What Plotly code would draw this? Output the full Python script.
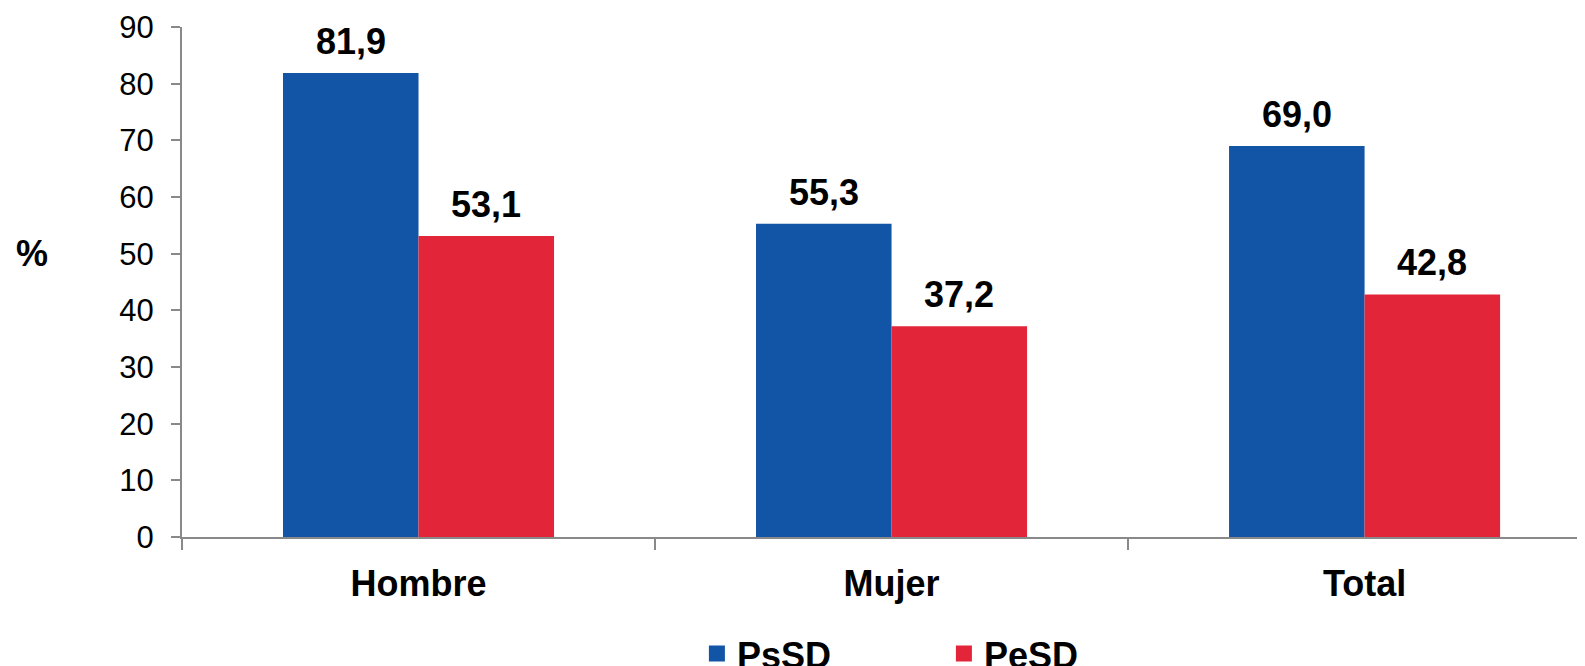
import plotly.graph_objects as go

categories = ["Hombre", "Mujer", "Total"]
psd = [81.9, 55.3, 69.0]
pesd = [53.1, 37.2, 42.8]
series_names = ["PsSD", "PeSD"]
y_ticks = [0, 10, 20, 30, 40, 50, 60, 70, 80, 90]

BLUE = "#1254a5"
RED = "#e22539"
AXIS = "#898989"
FONT = "Liberation Sans, Arial, sans-serif"

fig = go.Figure()

# bars (legend is drawn with dummy square markers below)
for name, vals, col in [(series_names[0], psd, BLUE), (series_names[1], pesd, RED)]:
    fig.add_trace(go.Bar(x=categories, y=vals, name=name, marker_color=col,
                         marker_line_width=0, showlegend=False))
    fig.add_trace(go.Scatter(x=[None], y=[None], mode="markers", name=name,
                             marker=dict(symbol="square", size=16, color=col)))

# value labels above the bars, comma as decimal separator
half_bar = 67.8
for vals, shift in [(psd, -half_bar), (pesd, half_bar)]:
    for cat, v in zip(categories, vals):
        fig.add_annotation(x=cat, y=v, text=f"{v:.1f}".replace(".", ","),
                           showarrow=False, yanchor="bottom", xshift=shift, yshift=9,
                           font=dict(family=FONT, size=36, color="black", weight="bold"))

# horizontal "%" axis title
fig.add_annotation(x=-0.1195, y=50 / 90, xref="paper", yref="paper", text="<b>%</b>",
                   showarrow=False, font=dict(family=FONT, size=36, color="black"))

fig.update_xaxes(range=[-0.5, 2.466], showline=True, linecolor=AXIS, linewidth=2,
                 ticks="outside", tickson="boundaries", ticklen=11, tickcolor=AXIS,
                 tickwidth=2, ticklabelstandoff=14,
                 tickfont=dict(family=FONT, size=36, color="black", weight="bold"))
fig.update_yaxes(range=[0, 90], tickvals=y_ticks, showline=True, linecolor=AXIS,
                 linewidth=2, ticks="outside", ticklen=9, tickcolor=AXIS, tickwidth=2,
                 showgrid=False, zeroline=False, ticklabelstandoff=11,
                 tickfont=dict(family=FONT, size=31, color="black"))

# the page body adds an 8px offset, so the figure is 8px smaller than the window
fig.update_layout(
    width=1577, height=658,
    margin=dict(l=174, r=0, t=19, b=129, autoexpand=False),
    paper_bgcolor="white", plot_bgcolor="white",
    barmode="group", bargap=0.427, bargroupgap=0,
    legend=dict(orientation="h", x=0.367, y=-0.17, xanchor="left", yanchor="top",
                entrywidth=202, font=dict(family=FONT, size=36, color="black", weight="bold")),
)

fig.write_html("out.html")
